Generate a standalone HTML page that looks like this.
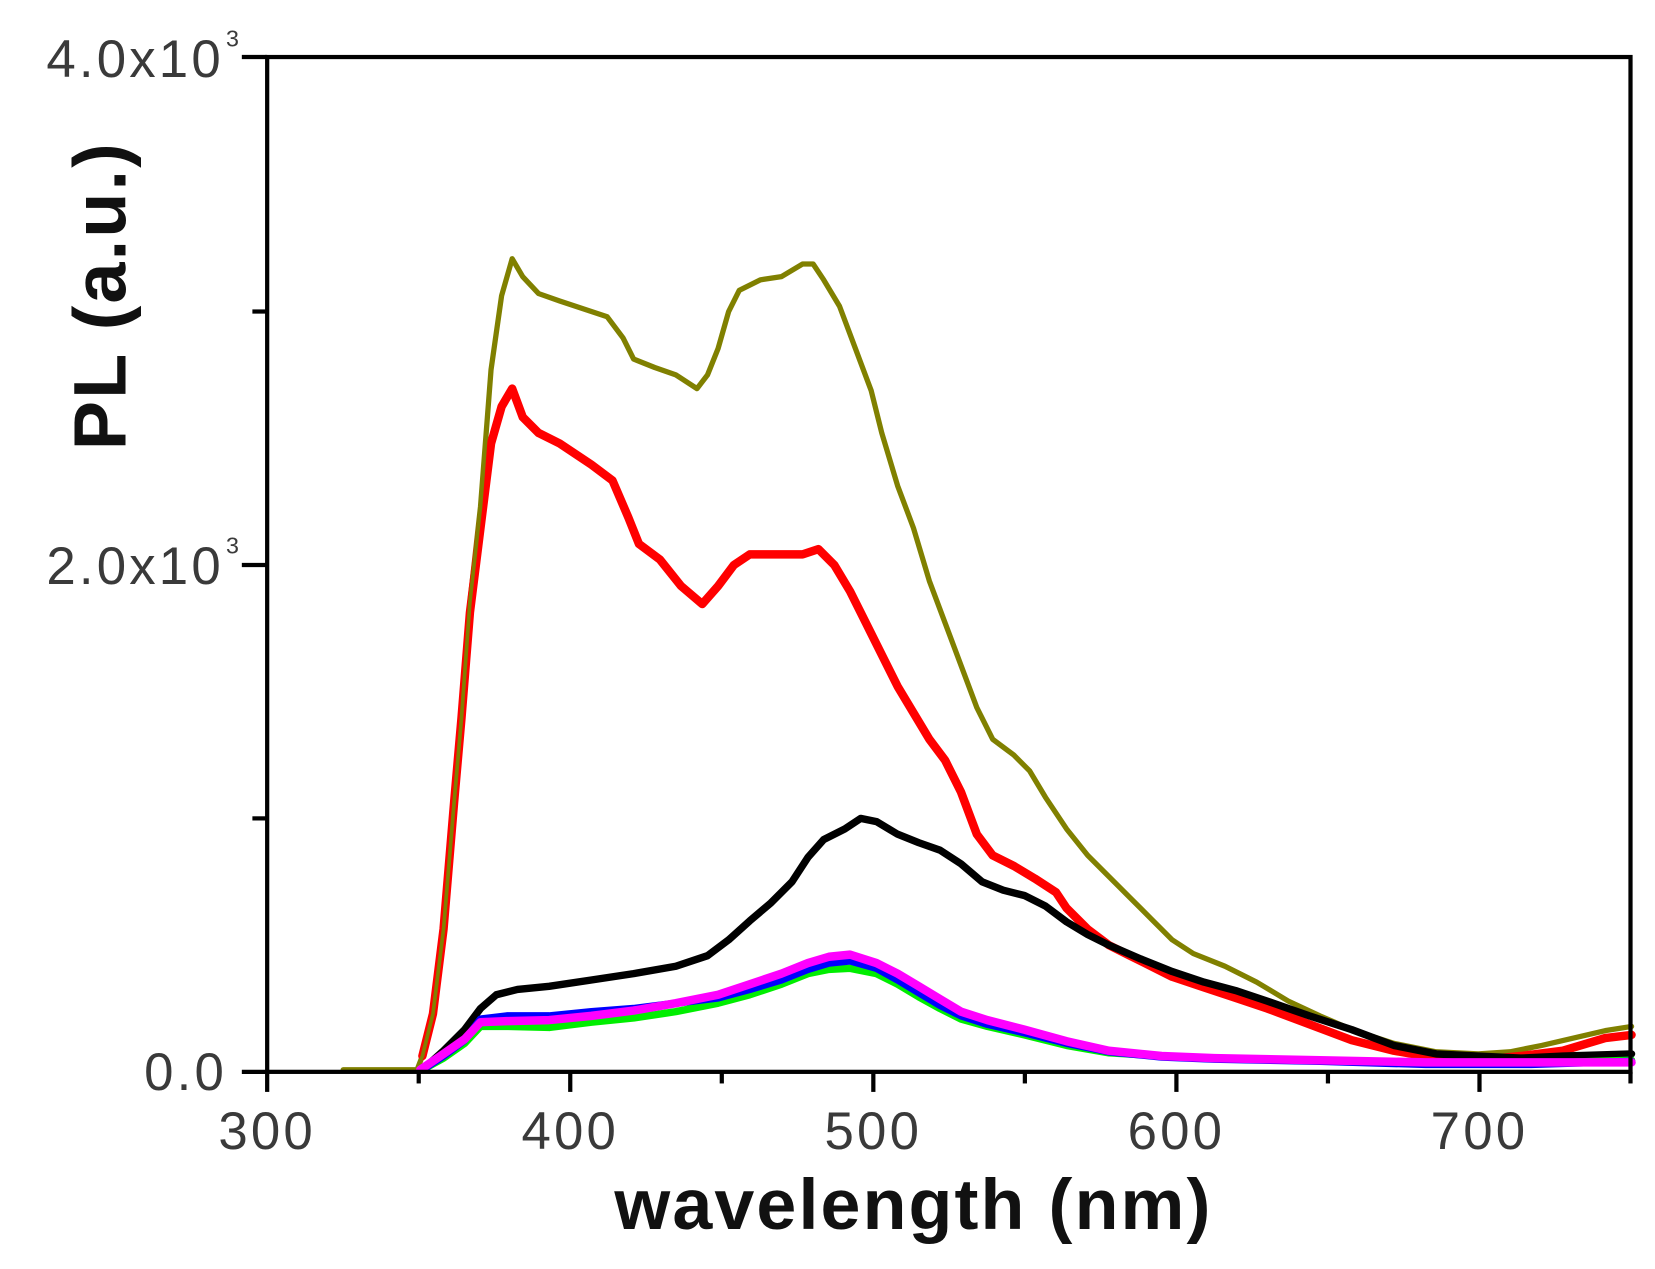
<!DOCTYPE html>
<html><head><meta charset="utf-8"><style>html,body{margin:0;padding:0;background:#fff;}svg{display:block}</style></head>
<body>
<svg width="1655" height="1269" viewBox="0 0 1567.2 1201.7" preserveAspectRatio="none" xmlns="http://www.w3.org/2000/svg">
<rect width="1567.2" height="1201.7" fill="#fff"/>
<g fill="none" stroke-linejoin="round" stroke-linecap="round">
<polyline stroke="#808000" stroke-width="5" points="325,1013 395,1013 400,1000 410,960 420,880 430,760 437,680 445,570 455,480 465,350 475,280 485,245 495,262 510,278 530,285 560,295 575,300 590,320 600,340 620,348 640,355 660,368 670,355 680,330 690,295 700,275 720,265 740,262 760,250 770,250 780,265 795,290 810,330 825,370 835,410 850,460 865,500 880,550 895,590 910,630 925,670 940,700 960,715 975,730 990,755 1010,785 1030,810 1050,830 1070,850 1090,870 1110,890 1130,903 1160,915 1190,930 1220,948 1250,962 1280,975 1320,988 1360,996 1400,998 1430,996 1460,990 1490,983 1520,976 1545,972"/>
<polyline stroke="#ff0000" stroke-width="8" points="400,1000 410,960 420,880 430,760 437,680 445,580 455,500 465,420 475,385 485,368 495,395 510,410 530,420 560,440 580,455 595,490 605,515 625,530 645,555 665,572 680,555 695,535 710,525 730,525 760,525 775,520 790,535 805,560 820,590 835,620 850,650 865,675 880,700 895,720 910,750 925,790 940,810 960,820 980,832 1000,845 1010,860 1030,880 1050,895 1070,905 1090,915 1110,925 1140,935 1170,945 1200,955 1240,970 1280,985 1320,995 1360,1002 1400,1004 1440,1000 1480,995 1520,983 1545,980"/>
<polyline stroke="#808000" stroke-width="3.5" points="395,1013 400,1000 410,960 420,880 430,760 437,680 445,570 455,480 465,350"/>
<polyline stroke="#000000" stroke-width="7" points="400,1013 420,995 440,975 455,955 470,942 490,937 520,934 560,928 600,922 640,915 670,905 690,890 710,872 730,855 750,835 765,812 780,795 800,785 815,775 830,778 850,790 870,798 890,805 910,818 930,835 950,843 970,848 990,858 1010,873 1030,885 1050,895 1080,908 1110,920 1140,930 1170,938 1200,948 1240,962 1280,975 1320,990 1360,998 1400,1000 1440,1002 1480,1000 1545,998"/>
<polyline stroke="#00ee00" stroke-width="7" points="400,1013 420,1002 440,988 455,972 480,972 520,973 560,968 600,964 640,958 680,950 710,942 740,932 765,922 785,918 805,917 830,922 850,932 870,944 890,955 910,965 935,972 970,980 1010,990 1050,997 1100,1000 1150,1002 1250,1004 1350,1007 1450,1007 1545,1004"/>
<polyline stroke="#0000ff" stroke-width="7" points="400,1013 420,1000 440,985 455,965 480,962 520,962 560,958 600,955 640,950 680,945 710,937 740,928 765,918 785,912 805,910 830,917 850,928 870,940 890,952 910,962 935,970 970,978 1010,988 1050,996 1100,1001 1150,1003 1250,1005 1350,1008 1450,1008 1545,1005"/>
<polyline stroke="#ff00ff" stroke-width="8" points="398,1013 420,998 440,984 455,968 480,967 520,966 560,962 600,957 640,950 680,942 710,932 740,922 765,912 785,906 805,904 830,912 850,922 870,934 890,946 910,958 935,966 970,975 1010,986 1050,995 1100,1000 1150,1002 1250,1004 1350,1006 1450,1006 1545,1006"/>
</g>
<g stroke="#000" stroke-width="4" fill="none">
<rect x="253" y="54" width="1291" height="961"/>
<line x1="229" y1="54" x2="253" y2="54"/>
<line x1="229" y1="535" x2="253" y2="535"/>
<line x1="229" y1="1015" x2="253" y2="1015"/>
<line x1="239" y1="295" x2="253" y2="295"/>
<line x1="239" y1="775" x2="253" y2="775"/>
<line x1="253" y1="1015" x2="253" y2="1034"/>
<line x1="540" y1="1015" x2="540" y2="1034"/>
<line x1="827" y1="1015" x2="827" y2="1034"/>
<line x1="1114" y1="1015" x2="1114" y2="1034"/>
<line x1="1401" y1="1015" x2="1401" y2="1034"/>
<line x1="396.5" y1="1015" x2="396.5" y2="1026"/>
<line x1="683.5" y1="1015" x2="683.5" y2="1026"/>
<line x1="970.5" y1="1015" x2="970.5" y2="1026"/>
<line x1="1257.5" y1="1015" x2="1257.5" y2="1026"/>
<line x1="1544" y1="1015" x2="1544" y2="1026"/>
</g>
<g font-family="Liberation Sans, sans-serif" fill="#3a3a3a" font-size="50" letter-spacing="3">
<text x="212" y="73" text-anchor="end">4.0x10</text>
<text x="214" y="44" font-size="22">3</text>
<text x="212" y="553" text-anchor="end">2.0x10</text>
<text x="214" y="524" font-size="22">3</text>
<text x="215" y="1032" text-anchor="end">0.0</text>
<text x="253" y="1088" text-anchor="middle">300</text>
<text x="540" y="1088" text-anchor="middle">400</text>
<text x="827" y="1088" text-anchor="middle">500</text>
<text x="1114" y="1088" text-anchor="middle">600</text>
<text x="1401" y="1088" text-anchor="middle">700</text>
</g>
<text x="865" y="1164" text-anchor="middle" font-family="Liberation Sans, sans-serif" font-weight="bold" font-size="68" letter-spacing="2" fill="#111">wavelength (nm)</text>
<text transform="translate(119,280) rotate(-90)" text-anchor="middle" font-family="Liberation Sans, sans-serif" font-weight="bold" font-size="70" letter-spacing="2" fill="#111">PL (a.u.)</text>
</svg>
</body></html>
